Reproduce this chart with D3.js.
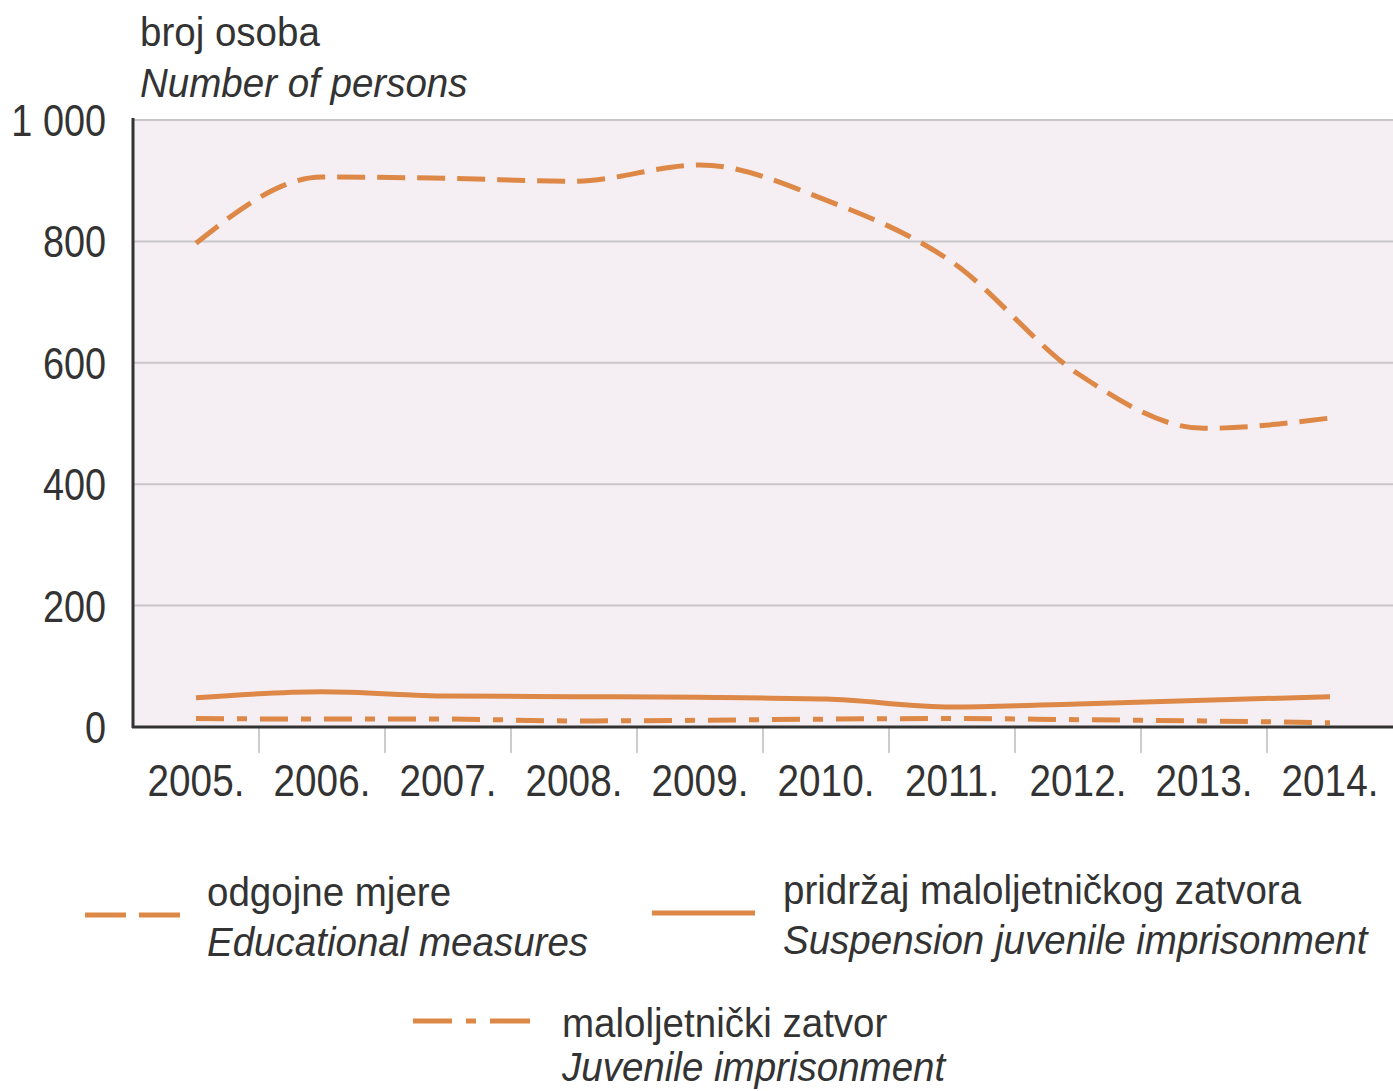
<!DOCTYPE html>
<html><head><meta charset="utf-8">
<script src="https://cdn.jsdelivr.net/npm/d3@7"></script>
<style>
body{margin:0;background:#fff;}
text{font-family:"Liberation Sans Narrow","Arial Narrow","Liberation Sans",sans-serif;fill:#333;}
</style></head><body>
<svg id="chart" width="1393" height="1091"></svg>
<script>
const years = ["2005.","2006.","2007.","2008.","2009.","2010.","2011.","2012.","2013.","2014."];
const educational = [797, 906, 904, 899, 926, 868, 766, 582, 492, 509];
const suspension = [48, 58, 51, 50, 49, 46, 33, 38, 44, 50];
const juvenile = [14, 13, 13, 10, 11, 13, 14, 12, 10, 7];
const yTicks = [0, 200, 400, 600, 800, 1000];
const yTickLabels = ["0","200","400","600","800","1 000"];

const svg = d3.select("#chart");
const L = 133, R = 1393, T = 120, B = 727;
const color = "#dd8846";

const x = d3.scaleBand().domain(years).range([L, R]);
const y = d3.scaleLinear().domain([0, 1000]).range([B, T]);

function txt(g, px, py, size, sx, str, anchor, italic) {
  return g.append("text")
    .attr("transform", `translate(${px},${py}) scale(${sx},1)`)
    .attr("font-size", size).attr("text-anchor", anchor || "start")
    .attr("font-style", italic ? "italic" : "normal").text(str);
}

svg.append("rect").attr("x", L).attr("y", T).attr("width", R - L).attr("height", B - T).attr("fill", "#f5eff3");

// gridlines
svg.append("g").selectAll("line").data(yTicks.filter(d => d > 0)).join("line")
  .attr("x1", L).attr("x2", R).attr("y1", d => y(d)).attr("y2", d => y(d))
  .attr("stroke", "#c9c5c9").attr("stroke-width", 2);

// y labels
const yl = svg.append("g");
yTicks.forEach((d, i) => txt(yl, 106, y(d) + 16, 44, 0.86, yTickLabels[i], "end"));

// x tick marks between bands
svg.append("g").selectAll("line").data(years.slice(1)).join("line")
  .attr("x1", d => x(d)).attr("x2", d => x(d)).attr("y1", B).attr("y2", B + 26)
  .attr("stroke", "#bbb").attr("stroke-width", 1.5);

const xl = svg.append("g");
years.forEach(d => txt(xl, x(d) + x.bandwidth() / 2, 796, 45, 0.86, d, "middle"));

const line = d3.line().x((d, i) => x(years[i]) + x.bandwidth() / 2).y(d => y(d)).curve(d3.curveMonotoneX);

svg.append("path").datum(educational).attr("d", line).attr("fill", "none")
  .attr("stroke", color).attr("stroke-width", 5).attr("stroke-dasharray", "28,12");
svg.append("path").datum(suspension).attr("d", line).attr("fill", "none")
  .attr("stroke", color).attr("stroke-width", 5);
svg.append("path").datum(juvenile).attr("d", line).attr("fill", "none")
  .attr("stroke", color).attr("stroke-width", 5).attr("stroke-dasharray", "28,13,10,13");

// axes
svg.append("line").attr("x1", L).attr("x2", L).attr("y1", T - 2).attr("y2", B + 1).attr("stroke", "#333").attr("stroke-width", 3);
svg.append("line").attr("x1", L - 1).attr("x2", R).attr("y1", B).attr("y2", B).attr("stroke", "#333").attr("stroke-width", 3);

// axis title
const tg = svg.append("g");
txt(tg, 140, 46, 41, 0.94, "broj osoba");
txt(tg, 140, 97, 41, 0.94, "Number of persons", "start", true);

// legend
const legend = [
  {sx: 85, ex: 180, sy: 915, tx: 207, ty: 906, gap: 50, dash: "41,13", l1: "odgojne mjere", l2: "Educational measures"},
  {sx: 652, ex: 755, sy: 913, tx: 783, ty: 904, gap: 50, dash: null, l1: "pridržaj maloljetničkog zatvora", l2: "Suspension juvenile imprisonment"},
  {sx: 413, ex: 532, sy: 1021, tx: 562, ty: 1037, gap: 44, dash: "39,14,10,14,40", l1: "maloljetnički zatvor", l2: "Juvenile imprisonment"}
];
const lg = svg.append("g");
legend.forEach(d => {
  lg.append("line").attr("x1", d.sx).attr("x2", d.ex).attr("y1", d.sy).attr("y2", d.sy)
    .attr("stroke", color).attr("stroke-width", 5).attr("stroke-dasharray", d.dash);
  txt(lg, d.tx, d.ty, 41, 0.94, d.l1);
  txt(lg, d.tx, d.ty + d.gap, 41, 0.94, d.l2, "start", true);
});
</script>
</body></html>
